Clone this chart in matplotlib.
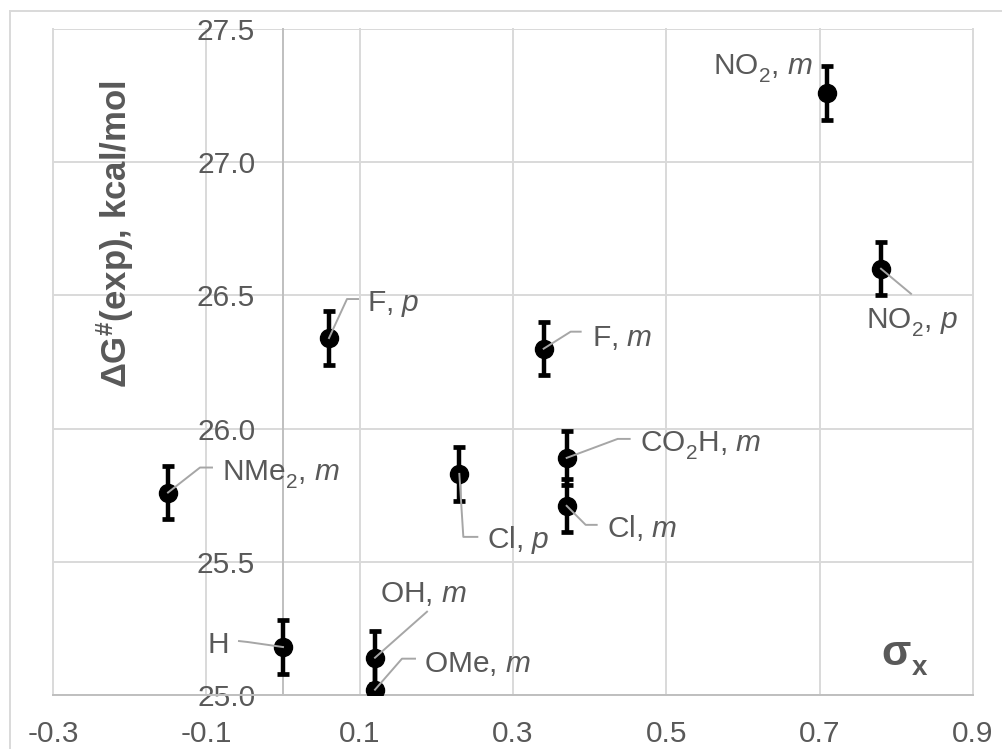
import matplotlib
matplotlib.use("Agg")
import matplotlib.pyplot as plt
from matplotlib.lines import Line2D
from matplotlib.transforms import IdentityTransform
import numpy as np

try:
    import matplotlib._mathtext as _mt
    _mt.FontConstantsBase.sub1 = 0.55
    _mt.FontConstantsBase.sub2 = 0.6
except Exception:
    pass

plt.rcParams['font.family'] = ['Liberation Sans', 'DejaVu Sans']
plt.rcParams['mathtext.fontset'] = 'custom'
plt.rcParams['mathtext.rm'] = 'Liberation Sans'
plt.rcParams['mathtext.it'] = 'Liberation Sans:italic'
plt.rcParams['mathtext.bf'] = 'Liberation Sans:bold'
plt.rcParams['axes.unicode_minus'] = False

# ---- data ----
labels = ["NMe$_2$, $\\mathit{m}$", "H", "OH, $\\mathit{m}$", "OMe, $\\mathit{m}$",
          "F, $\\mathit{p}$", "Cl, $\\mathit{p}$", "F, $\\mathit{m}$", "CO$_2$H, $\\mathit{m}$",
          "Cl, $\\mathit{m}$", "NO$_2$, $\\mathit{m}$", "NO$_2$, $\\mathit{p}$"]
sigma = [-0.15, 0.00, 0.12, 0.12, 0.06, 0.23, 0.34, 0.37, 0.37, 0.71, 0.78]
dG = [25.76, 25.18, 25.14, 25.02, 26.34, 25.83, 26.30, 25.89, 25.71, 27.26, 26.60]
err = [0.10] * len(sigma)
xticks = [-0.3, -0.1, 0.1, 0.3, 0.5, 0.7, 0.9]
yticks = [25.0, 25.5, 26.0, 26.5, 27.0, 27.5]

# ---- label placement (pixel offsets, image y-down) ----
# (text dx, text dy(baseline), ha, leader vertices)
place = [
    (54, -12, 'left', [(0, 0), (32, -25), (44, -25)]),
    (-54, 6, 'right', [(0, 0), (-35, -5), (-44, -6)]),
    (5, -56, 'left', [(0, 0), (52, -46)]),
    (49, -18, 'left', [(0, 0), (27, -31), (40, -31)]),
    (38, -27, 'left', [(0, 0), (18, -39), (29, -39)]),
    (28, 74, 'left', [(0, 0), (4, 63), (18, 63)]),
    (48, -3, 'left', [(0, 0), (27, -17), (37, -17)]),
    (73, -7, 'left', [(0, 0), (51, -19), (63, -19)]),
    (40, 31, 'left', [(0, 0), (19, 19), (30, 19)]),
    (-15, -19, 'right', []),
    (-15, 59, 'left', [(0, 0), (30, 25)]),
]

W, H = 1002, 749
fig = plt.figure(figsize=(W / 100, H / 100), dpi=100)
ax = fig.add_axes([53 / W, 1 - 695 / H, 920 / W, 666 / H])

TXT = '#595959'
GRID = '#d9d9d9'
AXC = '#bfbfbf'

ax.set_xlim(-0.3, 0.9)
ax.set_ylim(25.0, 27.5)
ax.set_xticks(xticks)
ax.set_yticks(yticks)
ax.set_xticklabels([f"{v:.1f}" for v in xticks])
ax.set_yticklabels([f"{v:.1f}" for v in yticks])
ax.tick_params(axis='both', length=0, labelsize=21.5, colors=TXT)
ax.tick_params(axis='y', pad=20)
ax.tick_params(axis='x', pad=18)

ax.grid(True, color=GRID, lw=1.4, zorder=0)
ax.set_axisbelow(True)
for ln in ax.get_xgridlines() + ax.get_ygridlines():
    ln.set_clip_on(False)
for s in ['top', 'right']:
    ax.spines[s].set_visible(False)
ax.spines['left'].set_position(('data', 0))
ax.spines['left'].set_color(AXC)
ax.spines['left'].set_linewidth(1.4)
ax.spines['bottom'].set_color(AXC)
ax.spines['bottom'].set_linewidth(1.4)

ax.errorbar(sigma, dG, yerr=err, fmt='o', color='black', ms=13,
            elinewidth=3.2, capsize=4.5, capthick=3.4, zorder=4)

fig.canvas.draw()
for i, (x, y) in enumerate(zip(sigma, dG)):
    px, py = ax.transData.transform((x, y))
    tdx, tdy, ha, verts = place[i]
    if verts:
        xs = [px + v[0] for v in verts]
        ys = [py - v[1] for v in verts]
        fig.add_artist(Line2D(xs, ys, color='#a6a6a6', lw=1.4,
                              transform=IdentityTransform(), zorder=3))
    fig.text(px + tdx, py - tdy, labels[i], transform=IdentityTransform(),
             ha=ha, va='baseline', fontsize=21.5, color=TXT, zorder=5)

# y-axis title
fig.text(115 / W, 1 - 234 / H, "ΔG$^{\\mathbf{\\#}}$(exp), kcal/mol", rotation=90,
         ha='center', va='center', fontsize=25, fontweight='bold', color=TXT)
# sigma_x
fig.text(911 / W, 1 - 665 / H, "σ", ha='right', va='baseline',
         fontsize=31, fontweight='bold', color=TXT)
fig.text(912 / W, 1 - 675 / H, "x", ha='left', va='baseline',
         fontsize=20, fontweight='bold', color=TXT)

# chart border
fig.add_artist(Line2D([10 / W, 1.0], [1 - 11 / H, 1 - 11 / H], color=GRID, lw=1.4,
                      transform=fig.transFigure))
fig.add_artist(Line2D([10 / W, 10 / W], [1 - 11 / H, 0.0], color=GRID, lw=1.4,
                      transform=fig.transFigure))

fig.savefig("out.png", dpi=100, facecolor='white')
